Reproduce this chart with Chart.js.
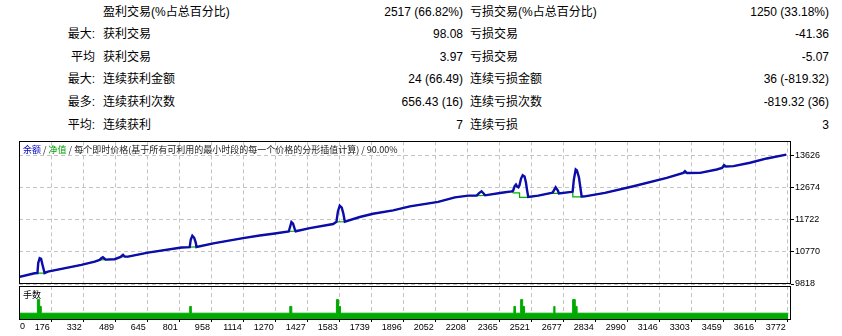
<!DOCTYPE html>
<html lang="zh-CN">
<head>
<meta charset="utf-8">
<title>测试报告 – 余额 / 净值</title>
<script src="https://cdn.jsdelivr.net/npm/chart.js@4.4.1/dist/chart.umd.min.js"></script>
<style>
  html, body { margin: 0; padding: 0; background: #fff; }
  body {
    width: 842px; height: 336px; position: relative; overflow: hidden;
    font-family: "Liberation Sans", "Noto Sans CJK SC", sans-serif;
    font-size: 12px; color: #000;
  }
  .cell { position: absolute; line-height: 16px; white-space: nowrap; }
  canvas { position: absolute; left: 0; }
  #mainChart { top: 135px; }
  #volChart  { top: 280px; }
  .chartTitle {
    position: absolute; left: 23px; top: 144px; white-space: nowrap;
    font-family: "Noto Sans CJK SC", sans-serif; font-size: 9px; line-height: 12px; color: #202020;
  }
  .volTitle {
    position: absolute; left: 23px; top: 289px;
    font-family: "Noto Sans CJK SC", sans-serif; font-size: 9px; line-height: 12px;
  }
</style>
</head>
<body>

<div id="stats"></div>

<canvas id="mainChart" width="842" height="157"></canvas>
<canvas id="volChart" width="842" height="56"></canvas>

<div class="chartTitle"><span style="color:#0000c0">余额</span> / <span style="color:#00a000">净值</span> / 每个即时价格(基于所有可利用的最小时段的每一个价格的分形插值计算) / 90.00%</div>
<div class="volTitle">手数</div>

<script>
// ── Statistics table ──────────────────────────────────────────
const rowLabelA = ["", "最大:", "平均", "最大:", "最多:", "平均:"];
const rowLabelB = ["盈利交易(%占总百分比)", "获利交易", "获利交易", "连续获利金额", "连续获利次数", "连续获利"];
const rowValueC = ["2517 (66.82%)", "98.08", "3.97", "24 (66.49)", "656.43 (16)", "7"];
const rowLabelD = ["亏损交易(%占总百分比)", "亏损交易", "亏损交易", "连续亏损金额", "连续亏损次数", "连续亏损"];
const rowValueE = ["1250 (33.18%)", "-41.36", "-5.07", "36 (-819.32)", "-819.32 (36)", "3"];
const rowCenter = [12, 34, 57, 79, 102, 125];

// ── Balance (blue) : trade number / value ─────────────────────
const balX = [0, 94, 108, 112, 119, 126, 133, 143, 159, 323, 388, 412, 420, 428, 436, 441,
  485, 515, 521, 526, 531, 536, 551, 648, 812, 852, 857, 865, 874, 882, 885,
  974, 1113, 1194, 1259, 1336, 1344, 1349, 1357, 1366, 1370, 1439, 1553,
  1569, 1576, 1585, 1595, 1603, 1610, 1683, 1748, 1846, 1928, 2066, 2148, 2213,
  2254, 2266, 2278, 2288, 2295, 2376, 2425, 2432, 2440, 2446, 2452, 2458, 2463,
  2471, 2479, 2488, 2495, 2500, 2506, 2555, 2620, 2626, 2640, 2651, 2656,
  2718, 2723, 2729, 2738, 2744, 2754, 2761, 2767, 2783, 2881, 3020, 3183,
  3264, 3272, 3282, 3346, 3427, 3453, 3463, 3473, 3509, 3590, 3672, 3767];
const balY = [10000, 10136, 10140, 10443, 10583, 10562, 10383, 10140, 10184, 10383, 10481, 10532, 10580, 10612, 10570, 10540,
  10553, 10621, 10660, 10681, 10650, 10630, 10630, 10749, 10898, 10910, 11127, 11246, 11186, 11038, 10915,
  11029, 11178, 11255, 11305, 11374, 11544, 11654, 11603, 11430, 11380, 11475, 11594,
  11660, 11960, 12139, 12079, 11900, 11665, 11802, 11900, 11999, 12118, 12249, 12385, 12436,
  12436, 12510, 12564, 12500, 12445, 12520, 12560, 12580, 12720, 12763, 12700, 12680, 12734,
  12942, 13040, 13002, 12823, 12614, 12397, 12436, 12516, 12530, 12683, 12585, 12500,
  12546, 12555, 12912, 13210, 13180, 12972, 12674, 12410, 12415, 12516, 12713, 12963,
  13111, 13159, 13105, 13111, 13210, 13254, 13337, 13299, 13308, 13409, 13537, 13650];

// ── Equity (green) : stays flat under the balance humps ───────
const eqX = [0, 94, 108, 143, 159, 323, 388, 412, 441, 485, 515, 536, 551, 648, 812, 852, 885,
  974, 1113, 1194, 1259, 1336, 1370, 1439, 1553, 1569, 1610, 1683, 1748, 1846, 1928, 2066, 2148, 2213,
  2254, 2295, 2376, 2425, 2432, 2463, 2464, 2506, 2555, 2620, 2626, 2656, 2718, 2723, 2724, 2767,
  2783, 2881, 3020, 3183, 3264, 3282, 3346, 3427, 3453, 3473, 3509, 3590, 3672, 3767];
const eqY = [10000, 10136, 10140, 10140, 10184, 10383, 10481, 10532, 10540, 10553, 10621, 10630, 10630, 10749, 10898, 10910, 10915,
  11029, 11178, 11255, 11305, 11374, 11380, 11475, 11594, 11660, 11665, 11802, 11900, 11999, 12118, 12249, 12385, 12436,
  12436, 12445, 12520, 12560, 12520, 12520, 12385, 12385, 12436, 12516, 12500, 12500, 12546, 12546, 12400, 12400,
  12415, 12516, 12713, 12963, 13111, 13105, 13111, 13210, 13254, 13299, 13308, 13409, 13537, 13650];

// ── Lots (volume panel): value holds until the next trade number ──
const volX    = [0, 108, 119, 127, 852, 860, 1341, 1351, 1569, 1579, 1589, 2436, 2444, 2469, 2479, 2488, 2631, 2637, 2723, 2736, 2745, 3777];
const volLots = [0.01, 0.03, 0.02, 0.01, 0.02, 0.01, 0.02, 0.01, 0.03, 0.02, 0.01, 0.02, 0.01, 0.03, 0.02, 0.01, 0.02, 0.01, 0.03, 0.02, 0.01, 0.01];

// ── Axis ticks ────────────────────────────────────────────────
const xTicks = [176, 332, 489, 645, 801, 958, 1114, 1270, 1427, 1583, 1739, 1896, 2052, 2208,
  2365, 2521, 2677, 2834, 2990, 3146, 3303, 3459, 3616, 3772];
const yTicks = [9818, 10770, 11722, 12674, 13626];

const X_MIN = 18, X_MAX = 3790;
const Y_MIN = 9818, Y_MAX = 14042;
const GRID = "#c4c4c4";
const AXIS_FONT = { family: "Liberation Sans", size: 9 };

Chart.defaults.font.family = "Liberation Sans";

function buildStats() {
  const box = document.getElementById("stats");
  const add = (text, top, side, pos) => {
    if (!text) return;
    const d = document.createElement("div");
    d.className = "cell";
    d.textContent = text;
    d.style.top = (top - 8) + "px";
    d.style[side] = pos + "px";
    box.appendChild(d);
  };
  rowCenter.forEach((c, i) => {
    add(rowLabelA[i], c, "right", 747);
    add(rowLabelB[i], c, "left", 103);
    add(rowValueC[i], c, "right", 379);
    add(rowLabelD[i], c, "left", 470);
    add(rowValueE[i], c, "right", 13);
  });
}

const toPoints = (xs, ys) => xs.map((x, i) => ({ x: x, y: ys[i] }));

// Black frame round each plot area
const framePlugin = {
  id: "frame",
  afterDatasetsDraw(chart) {
    const { ctx, chartArea: a } = chart;
    ctx.save();
    ctx.strokeStyle = "#000";
    ctx.lineWidth = 1;
    ctx.strokeRect(Math.round(a.left) + 0.5, Math.round(a.top) + 0.5,
                   Math.round(a.right - a.left) - 1, Math.round(a.bottom - a.top) - 1);
    ctx.restore();
  }
};

// MT4 prints a "0" at the left edge of the trade axis
const zeroLabel = {
  id: "zeroLabel",
  afterDraw(chart) {
    const s = chart.scales.x;
    const ctx = chart.ctx;
    ctx.save();
    ctx.font = "9px 'Liberation Sans'";
    ctx.fillStyle = "#000";
    ctx.textAlign = "left";
    ctx.textBaseline = "top";
    ctx.fillText("0", chart.chartArea.left + 1, s.top + 2);
    ctx.restore();
  }
};

function drawMain() {
  new Chart(document.getElementById("mainChart"), {
    type: "line",
    data: {
      datasets: [
        { label: "余额", data: toPoints(balX, balY), borderColor: "#0c0caa", borderWidth: 2.4,
          pointRadius: 0, tension: 0 },
        { label: "净值", data: toPoints(eqX, eqY), borderColor: "#00b000", borderWidth: 1.2,
          pointRadius: 0, tension: 0 }
      ]
    },
    options: {
      responsive: false, animation: false, events: [],
      layout: { padding: { left: 19, top: 6, right: 0, bottom: 8 } },
      plugins: { legend: { display: false }, tooltip: { enabled: false } },
      scales: {
        x: {
          type: "linear", min: X_MIN, max: X_MAX,
          afterBuildTicks: s => { s.ticks = xTicks.map(v => ({ value: v })); },
          afterFit: s => { s.height = 0; },
          ticks: { display: false },
          grid: { color: GRID, drawTicks: false },
          border: { display: false, dash: [4, 3] }
        },
        y: {
          position: "right", min: Y_MIN, max: Y_MAX,
          afterBuildTicks: s => { s.ticks = yTicks.map(v => ({ value: v })); },
          afterFit: s => { s.width = 51; },
          ticks: { color: "#000", font: AXIS_FONT, padding: 1, callback: v => String(v) },
          grid: { color: GRID, tickColor: "#000", tickLength: 3, tickBorderDash: [] },
          border: { display: false, dash: [4, 3] }
        }
      }
    },
    plugins: [framePlugin]
  });
}

function drawVolume() {
  new Chart(document.getElementById("volChart"), {
    type: "line",
    data: {
      datasets: [{
        label: "手数", data: toPoints(volX, volLots), stepped: "before", fill: "origin",
        backgroundColor: "#00aa00", borderColor: "#00aa00", borderWidth: 1, pointRadius: 0
      }]
    },
    options: {
      responsive: false, animation: false, events: [],
      layout: { padding: { left: 19, top: 6, right: 51, bottom: 0 } },
      plugins: { legend: { display: false }, tooltip: { enabled: false } },
      scales: {
        x: {
          type: "linear", min: X_MIN, max: X_MAX,
          afterBuildTicks: s => { s.ticks = xTicks.map(v => ({ value: v })); },
          afterFit: s => { s.height = 16; },
          ticks: { color: "#000", font: AXIS_FONT, align: "end", padding: 0, labelOffset: -1.5,
                   maxRotation: 0, autoSkip: false, callback: v => String(v) },
          grid: { color: GRID, tickColor: "#000", tickLength: 2, tickBorderDash: [] },
          border: { display: false, dash: [4, 3] }
        },
        y: { display: false, min: 0, max: 0.05 }
      }
    },
    plugins: [framePlugin, zeroLabel]
  });
}

buildStats();
drawMain();
drawVolume();
</script>
</body>
</html>
